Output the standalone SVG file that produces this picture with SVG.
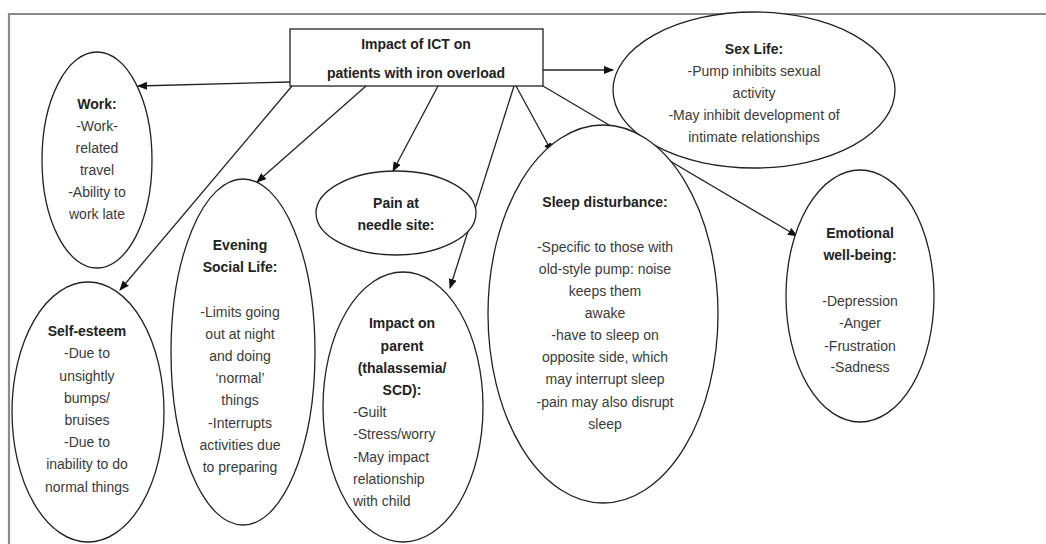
<svg xmlns="http://www.w3.org/2000/svg" width="1046" height="544" viewBox="0 0 1046 544">
<style>
.bg{fill:#ffffff}
.frame{fill:none;stroke:#8c8c8c;stroke-width:2.2}
.node{fill:#ffffff;stroke:#222;stroke-width:1.3}
.t{font-family:"Liberation Sans",Arial,sans-serif;font-size:14px;fill:#3a3a3a;text-anchor:middle}
.b{font-weight:bold;fill:#222}
.l{text-anchor:start}
.edge{fill:none;stroke:#222;stroke-width:1.3}
</style>
<defs>
<marker id="arr" markerUnits="userSpaceOnUse" markerWidth="10" markerHeight="8" refX="9" refY="4" orient="auto">
<path d="M0,0 L10,4 L0,8 Z" fill="#111"/>
</marker>
</defs>
<rect class="bg" x="0" y="0" width="1046" height="544"/>
<path class="frame" d="M9,544 L9,14 L1046,14"/>
<g id="connectors">
<line class="edge" x1="290" y1="82" x2="138" y2="86" marker-end="url(#arr)"/>
<line class="edge" x1="543" y1="70" x2="613" y2="70" marker-end="url(#arr)"/>
<line class="edge" x1="292" y1="86" x2="120" y2="290" marker-end="url(#arr)"/>
<line class="edge" x1="366" y1="86" x2="257" y2="182" marker-end="url(#arr)"/>
<line class="edge" x1="438" y1="86" x2="393" y2="171" marker-end="url(#arr)"/>
<line class="edge" x1="514" y1="86" x2="450" y2="288" marker-end="url(#arr)"/>
<line class="edge" x1="516" y1="86" x2="552" y2="152" marker-end="url(#arr)"/>
<line class="edge" x1="543" y1="86" x2="797" y2="236" marker-end="url(#arr)"/>
</g>
<g id="title">
<rect class="node" x="290" y="29" width="253" height="57"/>
<text class="t b" x="416" y="49">Impact of ICT on</text>
<text class="t b" x="416" y="78">patients with iron overload</text>
</g>
<g id="work">
<ellipse class="node" cx="97" cy="160" rx="55" ry="108"/>
<text class="t b" x="97" y="109">Work:</text>
<text class="t" x="97" y="131">-Work-</text>
<text class="t" x="97" y="153">related</text>
<text class="t" x="97" y="175">travel</text>
<text class="t" x="97" y="197">-Ability to</text>
<text class="t" x="97" y="219">work late</text>
</g>
<g id="sexlife">
<ellipse class="node" cx="754" cy="90" rx="141" ry="78"/>
<text class="t b" x="754" y="54">Sex Life:</text>
<text class="t" x="754" y="76">-Pump inhibits sexual</text>
<text class="t" x="754" y="98">activity</text>
<text class="t" x="754" y="120">-May inhibit development of</text>
<text class="t" x="754" y="142">intimate relationships</text>
</g>
<g id="selfesteem">
<ellipse class="node" cx="88" cy="412" rx="76" ry="130"/>
<text class="t b" x="87" y="336">Self-esteem</text>
<text class="t" x="87" y="358">-Due to</text>
<text class="t" x="87" y="381">unsightly</text>
<text class="t" x="87" y="403">bumps/</text>
<text class="t" x="87" y="425">bruises</text>
<text class="t" x="87" y="447">-Due to</text>
<text class="t" x="87" y="469">inability to do</text>
<text class="t" x="87" y="492">normal things</text>
</g>
<g id="evening">
<ellipse class="node" cx="243" cy="352" rx="72" ry="173"/>
<text class="t b" x="240" y="250">Evening</text>
<text class="t b" x="240" y="272">Social Life:</text>
<text class="t" x="240" y="317">-Limits going</text>
<text class="t" x="240" y="339">out at night</text>
<text class="t" x="240" y="361">and doing</text>
<text class="t" x="240" y="383">‘normal’</text>
<text class="t" x="240" y="405">things</text>
<text class="t" x="240" y="428">-Interrupts</text>
<text class="t" x="240" y="450">activities due</text>
<text class="t" x="240" y="472">to preparing</text>
</g>
<g id="pain">
<ellipse class="node" cx="396" cy="213" rx="80" ry="42"/>
<text class="t b" x="396" y="208">Pain at</text>
<text class="t b" x="396" y="230">needle site:</text>
</g>
<g id="parent">
<ellipse class="node" cx="403" cy="407" rx="80" ry="135"/>
<text class="t b" x="402" y="328">Impact on</text>
<text class="t b" x="402" y="351">parent</text>
<text class="t b" x="402" y="373">(thalassemia/</text>
<text class="t b" x="402" y="395">SCD):</text>
<text class="t l" x="353" y="417">-Guilt</text>
<text class="t l" x="353" y="439">-Stress/worry</text>
<text class="t l" x="353" y="462">-May impact</text>
<text class="t l" x="353" y="484">relationship</text>
<text class="t l" x="353" y="506">with child</text>
</g>
<g id="sleep">
<ellipse class="node" cx="603" cy="314" rx="115" ry="189"/>
<text class="t b" x="605" y="207">Sleep disturbance:</text>
<text class="t" x="605" y="252">-Specific to those with</text>
<text class="t" x="605" y="274">old-style pump: noise</text>
<text class="t" x="605" y="296">keeps them</text>
<text class="t" x="605" y="318">awake</text>
<text class="t" x="605" y="340">-have to sleep on</text>
<text class="t" x="605" y="362">opposite side, which</text>
<text class="t" x="605" y="384">may interrupt sleep</text>
<text class="t" x="605" y="407">-pain may also disrupt</text>
<text class="t" x="605" y="429">sleep</text>
</g>
<g id="emotional">
<ellipse class="node" cx="860" cy="296" rx="74" ry="126"/>
<text class="t b" x="860" y="238">Emotional</text>
<text class="t b" x="860" y="260">well-being:</text>
<text class="t" x="860" y="306">-Depression</text>
<text class="t" x="860" y="328">-Anger</text>
<text class="t" x="860" y="351">-Frustration</text>
<text class="t" x="860" y="372">-Sadness</text>
</g>
</svg>
